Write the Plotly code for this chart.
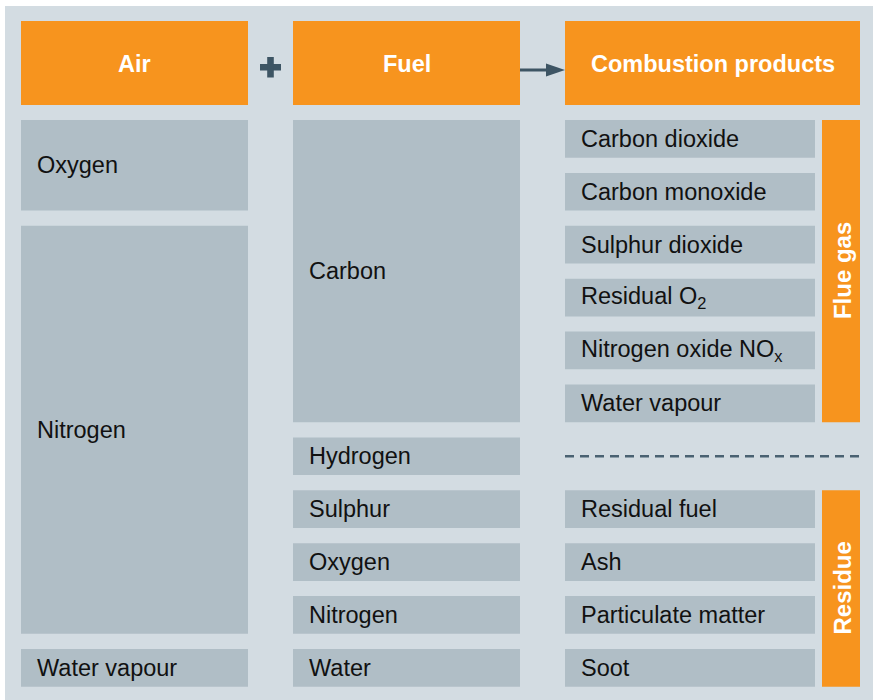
import plotly.graph_objects as go

# ---- content ----
headers = ["Air", "Fuel", "Combustion products"]
air_items = ["Oxygen", "Nitrogen", "Water vapour"]
air_rows = [(0, 1), (2, 9), (10, 10)]
fuel_items = ["Carbon", "Hydrogen", "Sulphur", "Oxygen", "Nitrogen", "Water"]
fuel_rows = [(0, 5), (6, 6), (7, 7), (8, 8), (9, 9), (10, 10)]
product_items = ["Carbon dioxide", "Carbon monoxide", "Sulphur dioxide",
                 "Residual O<sub>2</sub>", "Nitrogen oxide NO<sub>x</sub>", "Water vapour",
                 "Residual fuel", "Ash", "Particulate matter", "Soot"]
product_rows = [0, 1, 2, 3, 4, 5, 7, 8, 9, 10]
groups = ["Flue gas", "Residue"]
group_rows = [(0, 5), (7, 10)]
separator_row = 6

# ---- style ----
W, H = 873, 700
BG = "#D3DCE2"
BOX = "#B0BEC6"
ORANGE = "#F7941E"
DARK = "#3D5564"
FONT = "Liberation Sans, Arial, Helvetica, sans-serif"

col_x = [(21, 248), (293, 520), (565, 860)]
prod_box_x = (565, 815)
group_x = (822, 860)
head_y = (21, 105)
row_top0, pitch, row_h = 120, 52.9, 37.7

def row_span(r0, r1):
    return row_top0 + r0 * pitch, row_top0 + r1 * pitch + row_h

shapes, annotations = [], []

def rect(x0, x1, y0, y1, color):
    shapes.append(dict(type="rect", xref="x", yref="y", x0=x0, x1=x1, y0=y0, y1=y1,
                       fillcolor=color, line=dict(width=0), layer="below"))

def label(x, y, text, size=23.5, color="#111111", anchor="left", angle=0):
    annotations.append(dict(x=x, y=y, xref="x", yref="y", text=text, showarrow=False,
                            xanchor=anchor, yanchor="middle", textangle=angle,
                            font=dict(family=FONT, size=size, color=color)))

# background
rect(5, W + 2, 6, H + 2, BG)

# headers
for (x0, x1), h in zip(col_x, headers):
    rect(x0, x1, head_y[0], head_y[1], ORANGE)
    label((x0 + x1) / 2, 63.5, "<b>" + h + "</b>", size=23.5, color="white", anchor="center")

# plus sign
rect(260, 281, 64, 70.5, DARK)
rect(267.2, 273.8, 57, 77.5, DARK)

# arrow
shapes.append(dict(type="line", xref="x", yref="y", x0=520, x1=548, y0=70, y1=70,
                   line=dict(color=DARK, width=3)))
shapes.append(dict(type="path", xref="x", yref="y", path="M 546 63.5 L 565 70 L 546 76.5 Z",
                   fillcolor=DARK, line=dict(width=0)))

# air column
for item, (r0, r1) in zip(air_items, air_rows):
    y0, y1 = row_span(r0, r1)
    rect(col_x[0][0], col_x[0][1], y0, y1, BOX)
    label(col_x[0][0] + 14, (y0 + y1) / 2, item)

# fuel column
for item, (r0, r1) in zip(fuel_items, fuel_rows):
    y0, y1 = row_span(r0, r1)
    rect(col_x[1][0], col_x[1][1], y0, y1, BOX)
    label(col_x[1][0] + 14, (y0 + y1) / 2, item)

# products
for item, r in zip(product_items, product_rows):
    y0, y1 = row_span(r, r)
    rect(prod_box_x[0], prod_box_x[1], y0, y1, BOX)
    label(prod_box_x[0] + 14, (y0 + y1) / 2, item)

for g, (r0, r1) in zip(groups, group_rows):
    y0, y1 = row_span(r0, r1)
    rect(group_x[0], group_x[1], y0, y1, ORANGE)
    label((group_x[0] + group_x[1]) / 2 + 1, (y0 + y1) / 2, "<b>" + g + "</b>", size=24,
          color="white", anchor="center", angle=-90)

sy0, sy1 = row_span(separator_row, separator_row)
shapes.append(dict(type="line", xref="x", yref="y", x0=565, x1=860,
                   y0=(sy0 + sy1) / 2, y1=(sy0 + sy1) / 2,
                   line=dict(color="#4A6272", width=2.5, dash="9px,6px")))

fig = go.Figure()
fig.update_layout(
    width=W, height=H, margin=dict(l=0, r=0, t=0, b=0),
    paper_bgcolor="white", plot_bgcolor="white",
    xaxis=dict(range=[0, W], visible=False, fixedrange=True),
    yaxis=dict(range=[H, 0], visible=False, fixedrange=True),
    shapes=shapes, annotations=annotations, showlegend=False,
)
fig.write_html("out.html", default_width=f"{W}px", default_height=f"{H}px",
               config={"displayModeBar": False, "staticPlot": True},
               post_script="document.body.style.margin='0';document.body.style.overflow='hidden';")
